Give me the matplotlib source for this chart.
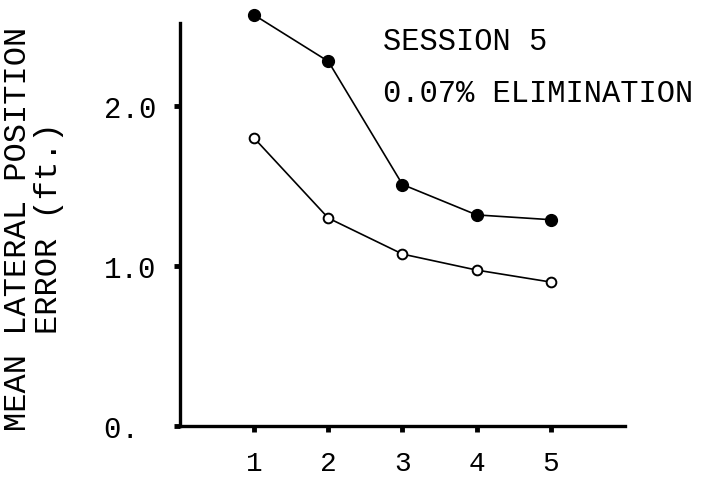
import matplotlib.pyplot as plt

# session number on the x axis
session = [1, 2, 3, 4, 5]
filled_err = [2.57, 2.28, 1.51, 1.32, 1.29]
open_err = [1.80, 1.30, 1.075, 0.975, 0.90]

ytick_vals = [0, 1, 2]
ytick_labels = ['0. ', '1.0', '2.0']

plt.rcParams['font.family'] = ['Liberation Mono', 'DejaVu Sans Mono']

fig = plt.figure(figsize=(7.04, 4.81), dpi=100)
ax = fig.add_axes([0.2557, 0.1123, 0.632, 0.8378])

ax.plot(session, filled_err, color='black', lw=1.2, marker='o', ms=8.5,
        mfc='black', mec='black', clip_on=False, zorder=3)
ax.plot(session, open_err, color='black', lw=1.2, marker='o', ms=7,
        mfc='white', mec='black', mew=1.4, clip_on=False, zorder=3)

ax.set_xlim(0, 6)
ax.set_ylim(0, 2.52)
ax.set_xticks(session)
ax.set_yticks(ytick_vals)
ax.set_yticklabels(ytick_labels)

for s in ['top', 'right']:
    ax.spines[s].set_visible(False)
for s in ['left', 'bottom']:
    ax.spines[s].set_linewidth(2.4)

ax.tick_params(axis='both', direction='out', length=4, width=3.5,
               labelsize=21)
ax.tick_params(axis='y', pad=13)
ax.tick_params(axis='x', pad=13, labelsize=20)

fig.text(0.047, 0.525, 'MEAN LATERAL POSITION\nERROR (ft.)', rotation=90,
         ha='center', va='center', multialignment='center', fontsize=23,
         linespacing=1.05)

ax.text(383 / 704, 1 - 50 / 481, 'SESSION 5', transform=fig.transFigure,
        fontsize=22, va='baseline', ha='left')
ax.text(383 / 704, 1 - 102 / 481, '0.07% ELIMINATION', transform=fig.transFigure,
        fontsize=22, va='baseline', ha='left')

plt.savefig('out.png', dpi=100)
